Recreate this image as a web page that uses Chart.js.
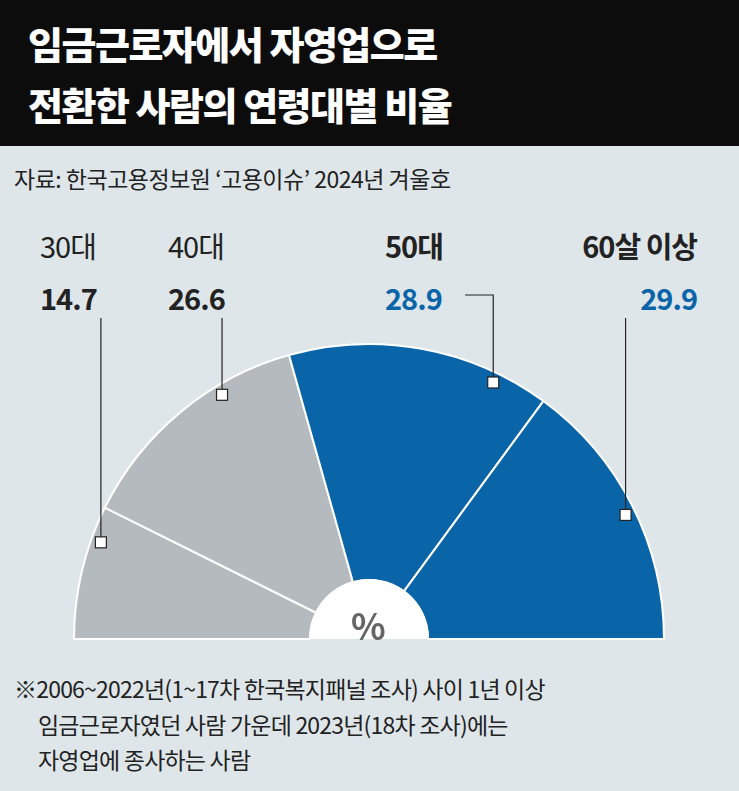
<!DOCTYPE html>
<html><head><meta charset="utf-8">
<script src="https://cdn.jsdelivr.net/npm/chart.js@4"></script>
<style>
body{margin:0;width:739px;height:791px;background:#dfe6ea;font-family:"Noto Sans CJK KR",sans-serif;position:relative;overflow:hidden}
.t{position:absolute;white-space:nowrap}
#head{position:absolute;left:0;top:0;width:739px;height:146px;background:#0c0c0c}
#head div{position:absolute;left:28px;color:#fff;font-size:38px;font-weight:900;letter-spacing:-1.5px}
.lab{font-size:29px;color:#222;letter-spacing:-1px}
.b{font-weight:700}
.blue{color:#0a64a8}
#wrap{position:absolute;left:72px;top:283px;width:594px;height:357px}
.note{font-size:23px;color:#222;letter-spacing:-0.8px}
</style></head><body>
<div id="head"><div style="top:15px">임금근로자에서 자영업으로</div><div style="top:76px">전환한 사람의 연령대별 비율</div></div>
<div class="t" style="left:14px;top:161px;font-size:23px;color:#222;letter-spacing:-0.5px">자료: 한국고용정보원 ‘고용이슈’ 2024년 겨울호</div>
<div id="labels"></div>
<div id="wrap"><canvas id="c"></canvas></div>
<div class="t" style="left:351px;top:598px;font-size:36px;font-weight:700;color:#666">%</div>
<div class="t note" style="left:14px;top:671px">※2006~2022년(1~17차 한국복지패널 조사) 사이 1년 이상</div>
<div class="t note" style="left:38px;top:707px">임금근로자였던 사람 가운데 2023년(18차 조사)에는</div>
<div class="t note" style="left:38px;top:742px">자영업에 종사하는 사람</div>
<script>
const categories = ['30대', '40대', '50대', '60살 이상'];
const shares = [14.7, 26.6, 28.9, 29.9];
const colors = ['#b4babd', '#b4babd', '#0a64a8', '#0a64a8'];
// label layout (page coords) and marker placement along each arc
const labelPos = [{x:40,y:224,top:318},{x:168,y:224,top:318},{x:385,y:224,top:295,hx:465},{x:545,y:224,top:318}];
const markFrac = [0.75, 0.68, 0.8, 0.52];

const L = document.getElementById('labels');
categories.forEach((c, i) => {
  const p = labelPos[i];
  const bold = i >= 2 ? ' b' : '';
  const right = i === 3 ? 'width:152px;text-align:right;' : '';
  L.innerHTML += `<div class="t lab${bold}" style="left:${p.x}px;top:${p.y}px;${right}">${c}</div>` +
    `<div class="t lab b${i>=2?' blue':''}" style="left:${p.x}px;top:${p.y+52}px;${right}">${shares[i]}</div>`;
});

const leaders = {
  id: 'leaders',
  afterDraw(chart) {
    const ctx = chart.ctx, arcs = chart.getDatasetMeta(0).data;
    const a0 = arcs[0];
    ctx.save();
    ctx.fillStyle = '#fff';
    ctx.beginPath();
    ctx.arc(a0.x, a0.y, 60, Math.PI, 2 * Math.PI);
    ctx.fill();
    const ox = 72, oy = 283;
    arcs.forEach((a, i) => {
      const ang = a.startAngle + (a.endAngle - a.startAngle) * markFrac[i];
      const r = a.outerRadius - 10;
      const mx = a.x + Math.cos(ang) * r, my = a.y + Math.sin(ang) * r;
      const p = labelPos[i];
      ctx.strokeStyle = '#222'; ctx.lineWidth = 1.2;
      ctx.beginPath();
      ctx.moveTo(mx, my);
      ctx.lineTo(mx, p.top - oy);
      if (p.hx) ctx.lineTo(p.hx - ox, p.top - oy);
      ctx.stroke();
      ctx.fillStyle = '#fff';
      ctx.fillRect(mx - 5.5, my - 5.5, 11, 11);
      ctx.strokeRect(mx - 5.5, my - 5.5, 11, 11);
    });
    ctx.restore();
  }
};

new Chart(document.getElementById('c'), {
  type: 'doughnut',
  data: { labels: categories, datasets: [{ data: shares, backgroundColor: colors, borderColor: '#fff', borderWidth: 2 }] },
  options: {
    responsive: true, maintainAspectRatio: false, animation: false,
    rotation: -90, circumference: 180, cutout: '20%',
    layout: { padding: { top: 60 } },
    plugins: { legend: { display: false }, tooltip: { enabled: false } }
  },
  plugins: [leaders]
});
</script>
</body></html>
